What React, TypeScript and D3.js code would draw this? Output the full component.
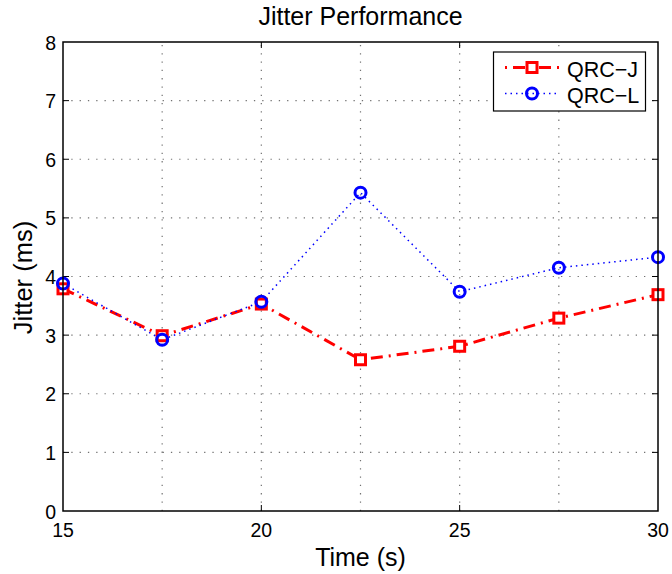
import React from "react";
import * as d3 from "d3";

const times = [15, 17.5, 20, 22.5, 25, 27.5, 30];
const qrcJ = [3.79, 2.99, 3.53, 2.58, 2.81, 3.29, 3.69];
const qrcL = [3.88, 2.92, 3.57, 5.43, 3.74, 4.15, 4.33];
const xTicks = [15, 20, 25, 30];
const xGrid = [17.5, 20, 22.5, 25, 27.5];
const yTicks = [0, 1, 2, 3, 4, 5, 6, 7, 8];
const seriesNames = ["QRC\u2212J", "QRC\u2212L"];

const W = 672;
const H = 574;
const M = { left: 63, right: 14, top: 42, bottom: 63 };
const FONT = "'Liberation Sans', Arial, Helvetica, sans-serif";

export default function App() {
  const x = d3.scaleLinear().domain([15, 30]).range([M.left, W - M.right]);
  const y = d3.scaleLinear().domain([0, 8]).range([H - M.bottom, M.top]);
  const pts = (ys: number[]) => times.map((t, i) => [t, ys[i]] as [number, number]);
  const line = d3.line<[number, number]>().x((d) => x(d[0])).y((d) => y(d[1]));

  const x0 = x(15), x1 = x(30), y0 = y(0), y1 = y(8);
  const gridY = yTicks.filter((v) => v > 0 && v < 8);
  const innerX = xTicks.filter((v) => v > 15 && v < 30);
  const tick = 6;

  const lx0 = 505, lx1 = 560, lxm = 532;
  const ly1 = 67.5, ly2 = 93.5;

  return (
    <svg width={W} height={H} style={{ position: "absolute", left: 0, top: 0, fontFamily: FONT }}>
      <rect width={W} height={H} fill="#fff" />
      {/* grid */}
      <g stroke="#000" strokeWidth={1.2} strokeDasharray="1.3,7" opacity={0.55}>
        {xGrid.map((v) => (
          <line key={"gx" + v} x1={x(v)} x2={x(v)} y1={y0} y2={y1} />
        ))}
        {gridY.map((v) => (
          <line key={"gy" + v} x1={x0} x2={x1} y1={y(v)} y2={y(v)} />
        ))}
      </g>
      {/* ticks */}
      <g stroke="#000" strokeWidth={1}>
        {innerX.map((v) => (
          <g key={"tx" + v}>
            <line x1={x(v)} x2={x(v)} y1={y0} y2={y0 - tick} />
            <line x1={x(v)} x2={x(v)} y1={y1} y2={y1 + tick} />
          </g>
        ))}
        {gridY.map((v) => (
          <g key={"ty" + v}>
            <line x1={x0} x2={x0 + tick} y1={y(v)} y2={y(v)} />
            <line x1={x1} x2={x1 - tick} y1={y(v)} y2={y(v)} />
          </g>
        ))}
      </g>
      {/* series */}
      <path d={line(pts(qrcJ)) || ""} fill="none" stroke="#ff0000" strokeWidth={3} strokeDasharray="12,6,2,6" />
      <path d={line(pts(qrcL)) || ""} fill="none" stroke="#0000ff" strokeWidth={1.5} strokeDasharray="1.5,4" />
      {pts(qrcJ).map((d, i) => (
        <rect key={"j" + i} x={x(d[0]) - 5} y={y(d[1]) - 5} width={10} height={10} fill="#fff" stroke="#ff0000" strokeWidth={3} />
      ))}
      {pts(qrcL).map((d, i) => (
        <circle key={"l" + i} cx={x(d[0])} cy={y(d[1])} r={5.5} fill="none" stroke="#0000ff" strokeWidth={3} />
      ))}
      {/* frame */}
      <rect x={x0} y={y1} width={x1 - x0} height={y0 - y1} fill="none" stroke="#000" strokeWidth={1.5} />
      {/* tick labels */}
      <g fontSize={19.5} fill="#000">
        {xTicks.map((v) => (
          <text key={"xl" + v} x={x(v)} y={y0 + 26} textAnchor="middle">{v}</text>
        ))}
        {yTicks.map((v) => (
          <text key={"yl" + v} x={x0 - 7} y={y(v) + 7.5} textAnchor="end">{v}</text>
        ))}
      </g>
      {/* titles */}
      <text x={(x0 + x1) / 2} y={25} textAnchor="middle" fontSize={25}>Jitter Performance</text>
      <text x={(x0 + x1) / 2} y={566} textAnchor="middle" fontSize={25}>Time (s)</text>
      <text transform={`translate(32,${(y0 + y1) / 2 + 1}) rotate(-90)`} textAnchor="middle" fontSize={25.5}>Jitter (ms)</text>
      {/* legend */}
      <rect x={493.5} y={52} width={152} height={59} fill="#fff" stroke="#000" strokeWidth={1.2} />
      <line x1={lx0} x2={lx1} y1={ly1} y2={ly1} stroke="#ff0000" strokeWidth={3} strokeDasharray="2,6,12,6" />
      <rect x={lxm - 5} y={ly1 - 5} width={10} height={10} fill="#fff" stroke="#ff0000" strokeWidth={3} />
      <line x1={lx0} x2={lx1} y1={ly2} y2={ly2} stroke="#0000ff" strokeWidth={1.5} strokeDasharray="1.5,4" />
      <circle cx={lxm} cy={ly2} r={5.5} fill="none" stroke="#0000ff" strokeWidth={3} />
      <text x={567} y={ly1 + 9} fontSize={21.5}>{seriesNames[0]}</text>
      <text x={567} y={ly2 + 9} fontSize={21.5}>{seriesNames[1]}</text>
    </svg>
  );
}
